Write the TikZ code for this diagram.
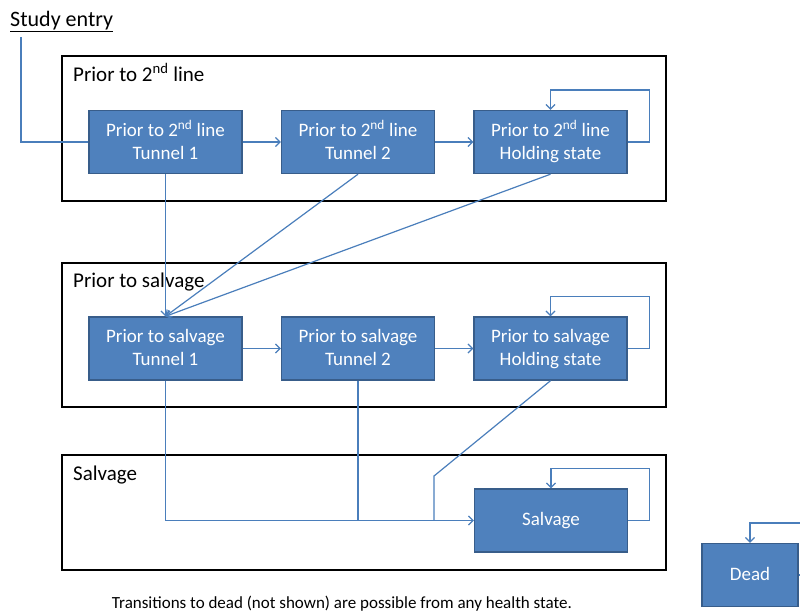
\documentclass[tikz,border=0pt]{standalone}
\usepackage{fontspec}
\setmainfont{Carlito}
\usetikzlibrary{arrows.meta,calc}
\definecolor{boxfill}{HTML}{4F81BD}
\definecolor{boxline}{HTML}{385D8A}
\definecolor{connc}{HTML}{4A7EBB}
\newcommand{\mystrut}{\rule[-4pt]{0pt}{18pt}}
\newcommand{\ls}[2]{#1\mystrut\\#2\mystrut}
\begin{document}
\begin{tikzpicture}[x=1pt,y=-1pt,
  statebox/.style={draw=boxline,line width=1.4pt,fill=boxfill,text=white,
    minimum width=153pt,minimum height=63pt,inner sep=0pt,align=center,
    font=\fontsize{19}{23}\selectfont},
  groupbox/.style={draw=black,line width=1.8pt,inner sep=0pt},
  grouplabel/.style={anchor=base west,inner sep=0pt,font=\fontsize{21}{24}\selectfont},
  conn/.style={draw=connc,line width=1.2pt},
  arr/.style={conn,-{Straight Barb[length=4.5pt,width=9pt,line width=1.2pt]}}]
\useasboundingbox (0,0) rectangle (800,613);
% group boxes
\node[groupbox,minimum width=604pt,minimum height=145pt] (g1) at (364,128.5) {};
\node[groupbox,minimum width=604pt,minimum height=144pt] (g2) at (364,335) {};
\node[groupbox,minimum width=604pt,minimum height=115pt] (g3) at (364,512.5) {};
\node[grouplabel] (l1) at (73,81) {Prior to 2\textsuperscript{nd} line};
\node[grouplabel] (l2) at (73,287) {Prior to salvage};
\node[grouplabel] (l3) at (73,480) {Salvage};
% study entry
\node[anchor=base west,inner sep=0pt,font=\fontsize{22}{24}\selectfont] (se) at (10,26) {\underline{Study entry}};
\coordinate (sestart) at (21,37);
% states
\node[statebox] (a1) at (165.5,142) {\ls{Prior to 2\textsuperscript{nd} line}{Tunnel 1}};
\node[statebox] (a2) at (358,142) {\ls{Prior to 2\textsuperscript{nd} line}{Tunnel 2}};
\node[statebox] (a3) at (550.5,142) {\ls{Prior to 2\textsuperscript{nd} line}{Holding state}};
\node[statebox] (b1) at (165.5,348.5) {\ls{Prior to salvage}{Tunnel 1}};
\node[statebox] (b2) at (358,348.5) {\ls{Prior to salvage}{Tunnel 2}};
\node[statebox] (b3) at (550.5,348.5) {\ls{Prior to salvage}{Holding state}};
\node[statebox] (s) at (551,520.5) {Salvage\mystrut};
\node[statebox,minimum width=96pt] (d) at (750,575) {Dead\mystrut};
% connectors
\draw[conn] (sestart) |- (a1.west);
\draw[arr] (a1.east) -- (a2.west);
\draw[arr] (a2.east) -- (a3.west);
\draw[arr] (a3.east) -| ++(22,-52) -| (a3.north);
\draw[arr] (a1.south) -- (b1.north);
\draw[arr] (a2.south) -- (b1.north);
\draw[arr] (a3.south) -- (b1.north);
\draw[arr] (b1.east) -- (b2.west);
\draw[arr] (b2.east) -- (b3.west);
\draw[arr] (b3.east) -| ++(22,-52) -| (b3.north);
\draw[arr] (b1.south) |- (s.west);
\draw[conn] (b2.south) -- (b2.south |- s.west);
\coordinate (bend) at (434,476);
\draw[conn] (b3.south) -- (bend) -- (bend |- s.west);
\draw[arr] (s.east) -| ++(21,-52) -| (s.north);
\draw[arr] (d.east) -| ++(20,-52) -| (d.north);
% caption
\node[inner sep=0pt,font=\fontsize{17}{19}\selectfont] (cap) at (342,604) {Transitions to dead (not shown) are possible from any health state.};
\end{tikzpicture}
\end{document}
